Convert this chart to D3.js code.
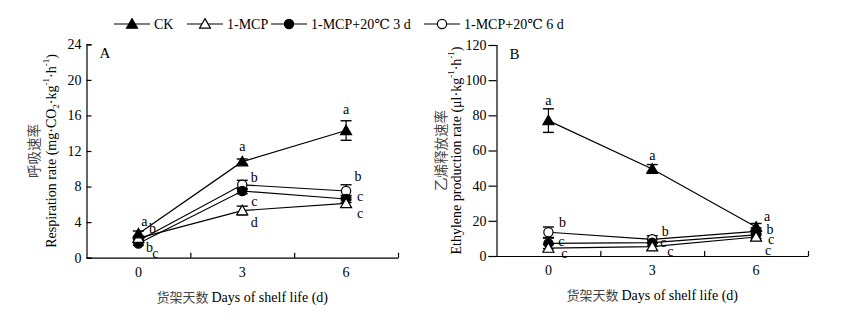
<!DOCTYPE html>
<html>
<head>
<meta charset="utf-8">
<script src="https://cdn.jsdelivr.net/npm/d3@7"></script>
<style>
  body { margin: 0; background: #fff; }
  svg text { font-family: "Liberation Serif", "Times New Roman", "DejaVu Serif", serif; fill: #000; }
  svg text .cn, svg text.cn { font-family: "Noto Sans CJK SC", sans-serif; fill: #444; }
</style>
</head>
<body>
<div id="chart"></div>
<script>
const W = 841, H = 326;

// data
const days = [0, 3, 6];
const seriesNames = ["CK", "1-MCP", "1-MCP+20\u2103 3 d", "1-MCP+20\u2103 6 d"];
const markerTypes = ["triFill", "triOpen", "circFill", "circOpen"];

const respCK = [2.7, 10.8, 14.3];
const respMCP = [2.2, 5.3, 6.1];
const resp3d = [1.6, 7.5, 6.6];
const resp6d = [1.9, 8.2, 7.5];
const respErrCK = [0.3, 0.3, 1.1];
const respErrMCP = [0.2, 0.5, 0.4];
const respErr3d = [0.2, 0.3, 0.4];
const respErr6d = [0.2, 0.5, 0.7];

const ethCK = [77, 49.5, 16.5];
const ethMCP = [4.5, 5.3, 10.8];
const eth3d = [7.2, 7.6, 12];
const eth6d = [13.5, 9.5, 14];
const ethErrCK = [6.7, 2.5, 2];
const ethErrMCP = [2, 2, 2];
const ethErr3d = [3, 2, 2];
const ethErr6d = [3, 2, 2];

const respTicks = [0, 4, 8, 12, 16, 20, 24];
const ethTicks = [0, 20, 40, 60, 80, 100, 120];

// significance letters: [day, value the letter sits at, letter]
const respLetters = [
  [0, 4.1, "a"], [0, 3.3, "b"], [0, 1.2, "b"], [0, 0.5, "c"],
  [3, 12.5, "a"], [3, 9.1, "b"], [3, 6.4, "c"], [3, 4.0, "d"],
  [6, 16.7, "a"], [6, 9.2, "b"], [6, 6.9, "c"], [6, 5.0, "c"]
];
const ethLetters = [
  [0, 88.7, "a"], [0, 19.3, "b"], [0, 8.5, "c"], [0, 1.7, "c"],
  [3, 57.5, "a"], [3, 14.2, "b"], [3, 8.0, "c"], [3, 2.8, "c"],
  [6, 22.8, "a"], [6, 15.4, "b"], [6, 9.7, "c"], [6, 3.4, "c"]
];
// horizontal nudges (px) for those letters
const respNudge = [6, 14, 11, 17, 0, 12, 12, 12, 0, 12, 14, 14];
const ethNudge = [0, 14, 13, 16, 0, 13, 11, 18, 11, 14, 15, 12];

const svg = d3.select("#chart").append("svg")
  .attr("width", W).attr("height", H)
  .attr("font-family", "Liberation Serif, serif");

function marker(g, type, x, y) {
  if (type.startsWith("tri")) {
    g.append("path")
      .attr("d", d3.symbol(d3.symbolTriangle, 52)())
      .attr("transform", `translate(${x},${y + 1})`)
      .attr("fill", type === "triFill" ? "#000" : "#fff")
      .attr("stroke", "#000").attr("stroke-width", 1.2);
  } else {
    g.append("circle")
      .attr("cx", x).attr("cy", y).attr("r", 4.6)
      .attr("fill", type === "circFill" ? "#000" : "#fff")
      .attr("stroke", "#000").attr("stroke-width", 1.2);
  }
}

function panel(opt) {
  const g = svg.append("g");
  const x = d3.scaleLinear().domain([-1.5, 7.5]).range([opt.left, opt.right]);
  const y = d3.scaleLinear().domain([opt.ticks[0], opt.ticks[opt.ticks.length - 1]])
    .range([opt.bottom, opt.top]);

  // y axis
  const yAxis = opt.inwardY
    ? d3.axisRight(y).tickValues(opt.ticks).tickSize(5).tickFormat("")
    : d3.axisLeft(y).tickValues(opt.ticks).tickSize(8).tickFormat("");
  g.append("g").attr("transform", `translate(${opt.left},0)`).call(yAxis)
    .call(a => a.selectAll("path,line").attr("stroke", "#000").attr("stroke-width", 1.2));
  g.append("g").selectAll("text").data(opt.ticks).join("text")
    .attr("x", opt.left - (opt.inwardY ? 5 : 10))
    .attr("y", d => y(d))
    .attr("dy", "0.35em")
    .attr("text-anchor", "end")
    .attr("font-size", 14)
    .text(d => d);

  // x axis
  g.append("g").attr("transform", `translate(0,${opt.bottom})`)
    .call(d3.axisTop(x).tickValues([1.5, 4.5, 7.5]).tickSize(5).tickSizeOuter(0).tickFormat(""))
    .call(a => a.selectAll("path,line").attr("stroke", "#000").attr("stroke-width", 1.2));
  g.append("g").selectAll("text").data(days).join("text")
    .attr("x", d => x(d)).attr("y", opt.bottom + 19)
    .attr("text-anchor", "middle").attr("font-size", 14)
    .text(d => d);

  // x title
  const xt = g.append("text").attr("x", x(3)).attr("y", opt.bottom + 44)
    .attr("text-anchor", "middle").attr("font-size", 14);
  xt.append("tspan").attr("class", "cn").attr("font-size", 13).text("货架天数 ");
  xt.append("tspan").text("Days of shelf life (d)");

  // y titles
  const cy = (opt.top + opt.bottom) / 2;
  g.append("text").attr("class", "cn")
    .attr("transform", `translate(${opt.cnX},${cy}) rotate(-90)`)
    .attr("text-anchor", "middle").attr("dominant-baseline", "central")
    .attr("font-size", 13.5).text(opt.cnTitle);
  const et = g.append("text")
    .attr("transform", `translate(${opt.enX},${cy}) rotate(-90)`)
    .attr("text-anchor", "middle").attr("dominant-baseline", "central")
    .attr("font-size", 14);
  opt.enTitle.forEach(p => {
    const s = et.append("tspan").text(p[0]);
    if (p[1] === "sup") s.attr("font-size", 9).attr("baseline-shift", "super");
    if (p[1] === "sub") s.attr("font-size", 9).attr("baseline-shift", "sub");
  });

  // panel letter
  g.append("text").attr("x", opt.left + 13).attr("y", opt.top + 14)
    .attr("font-size", 15).text(opt.label);

  const line = d3.line().x((d, i) => x(days[i])).y(d => y(d));
  opt.series.forEach(s => {
    g.append("path").datum(s.v).attr("d", line)
      .attr("fill", "none").attr("stroke", "#000").attr("stroke-width", 1.2);
  });
  opt.series.forEach(s => {
    s.v.forEach((v, i) => {
      const cx = x(days[i]);
      const e = s.e[i];
      g.append("line").attr("x1", cx).attr("x2", cx)
        .attr("y1", y(v - e)).attr("y2", y(v + e)).attr("stroke", "#000").attr("stroke-width", 1.2);
      [v - e, v + e].forEach(w => g.append("line")
        .attr("x1", cx - 5.5).attr("x2", cx + 5.5).attr("y1", y(w)).attr("y2", y(w))
        .attr("stroke", "#000").attr("stroke-width", 1.4));
    });
  });
  // draw markers in reverse so CK sits on top
  opt.series.slice().reverse().forEach(s => {
    s.v.forEach((v, i) => marker(g, s.m, x(days[i]), y(v)));
  });

  g.append("g").selectAll("text").data(opt.letters).join("text")
    .attr("x", (d, i) => x(d[0]) + opt.nudge[i])
    .attr("y", d => y(d[1]))
    .attr("dy", "0.35em").attr("text-anchor", "middle").attr("font-size", 14)
    .text(d => d[2]);
}

panel({
  left: 86.5, right: 398, top: 44.3, bottom: 257.7,
  ticks: respTicks, inwardY: true, label: "A",
  cnX: 33, enX: 51, cnTitle: "呼吸速率",
  enTitle: [["Respiration rate (mg\u00b7CO"], ["2", "sub"], ["\u00b7kg"], ["-1", "sup"], ["\u00b7h"], ["-1", "sup"], [")"]],
  series: [
    { v: respCK, e: respErrCK, m: markerTypes[0] },
    { v: respMCP, e: respErrMCP, m: markerTypes[1] },
    { v: resp3d, e: respErr3d, m: markerTypes[2] },
    { v: resp6d, e: respErr6d, m: markerTypes[3] }
  ],
  letters: respLetters, nudge: respNudge
});

panel({
  left: 496.5, right: 808, top: 45, bottom: 256,
  ticks: ethTicks, inwardY: false, label: "B",
  cnX: 440, enX: 456, cnTitle: "乙烯释放速率",
  enTitle: [["Ethylene production rate (\u03bcl\u00b7kg"], ["-1", "sup"], ["\u00b7h"], ["-1", "sup"], [")"]],
  series: [
    { v: ethCK, e: ethErrCK, m: markerTypes[0] },
    { v: ethMCP, e: ethErrMCP, m: markerTypes[1] },
    { v: eth3d, e: ethErr3d, m: markerTypes[2] },
    { v: eth6d, e: ethErr6d, m: markerTypes[3] }
  ],
  letters: ethLetters, nudge: ethNudge
});

// legend
const legendX = [114, 187, 271, 424];
const legendY = 24;
const lg = svg.append("g");
seriesNames.forEach((name, i) => {
  const x0 = legendX[i];
  lg.append("line").attr("x1", x0).attr("x2", x0 + 36)
    .attr("y1", legendY).attr("y2", legendY).attr("stroke", "#000").attr("stroke-width", 1.2);
  marker(lg, markerTypes[i], x0 + 18, legendY);
  lg.append("text").attr("x", x0 + 40).attr("y", legendY).attr("dy", "0.35em")
    .attr("font-size", 14).text(name);
});
</script>
</body>
</html>
